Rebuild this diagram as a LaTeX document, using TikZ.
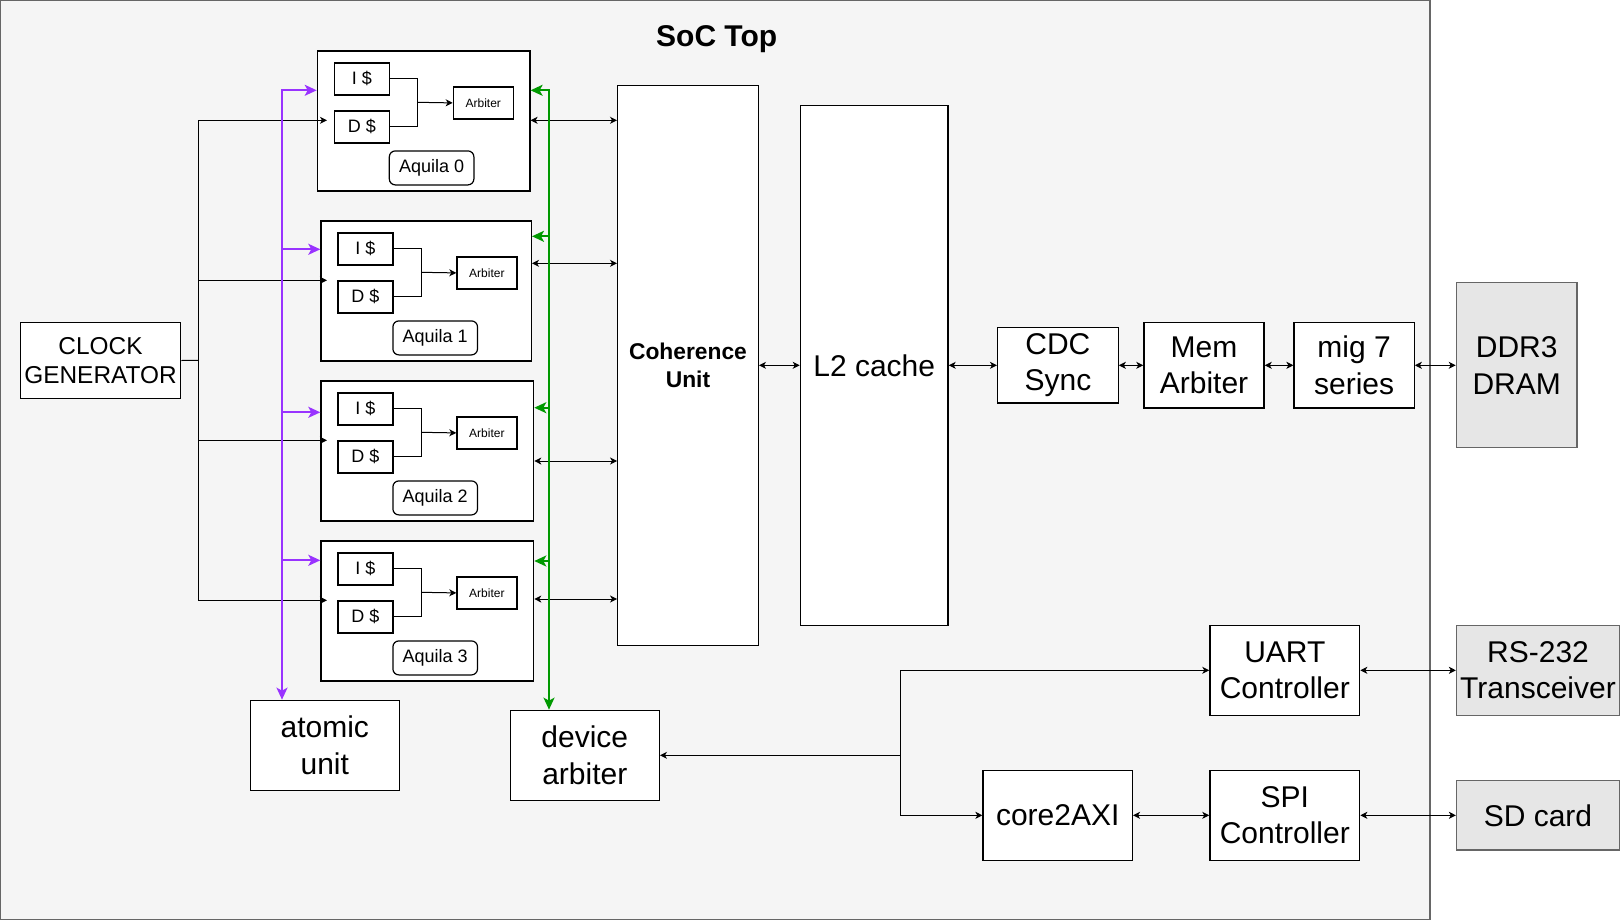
\documentclass[tikz,border=0pt]{standalone}
\usepackage{fontspec}
\setmainfont{Liberation Sans}
\usetikzlibrary{arrows.meta}
\definecolor{couleuratom}{RGB}{153,51,255}
\definecolor{couleurdev}{RGB}{0,153,0}
\definecolor{gris}{RGB}{102,102,102}
\definecolor{grispale}{RGB}{245,245,245}
\definecolor{grisext}{RGB}{230,230,230}
\newcommand{\taille}[2]{\fontsize{#1}{#2}\selectfont}

\begin{document}
\begin{tikzpicture}[x=1pt, y=-1pt]
		% STYLES
		\tikzstyle{bloc} = [draw=black, fill=white, line width=1.3pt, inner sep=0pt, align=center, font=\taille{30}{36.5}]
		\tikzstyle{externe} = [bloc, draw=gris, fill=grisext]
		\tikzstyle{coeur} = [draw=black, fill=white, line width=1.3pt, minimum height=140pt, inner sep=0pt]
		\tikzstyle{cache} = [draw=black, fill=white, line width=1.2pt, minimum width=55pt, minimum height=32pt, inner sep=0pt, font=\taille{18}{21}]
		\tikzstyle{arbitre} = [cache, minimum width=60pt, font=\taille{12}{14}]
		\tikzstyle{etiquette} = [cache, rounded corners=6pt, minimum width=84.6pt, minimum height=34pt]
		\tikzstyle{lien} = [line width=1pt]
		\tikzstyle{fleche} = [line width=1pt, -{Stealth[length=7pt,width=7pt,inset=2pt]}]
		\tikzstyle{bifleche} = [line width=1pt, {Stealth[length=7pt,width=7pt,inset=2pt]}-{Stealth[length=7pt,width=7pt,inset=2pt]}]
		\tikzstyle{lienatom} = [line width=2pt, draw=couleuratom, -{Stealth[length=12pt,width=11pt,inset=3pt]}]
		\tikzstyle{biatom} = [lienatom, {Stealth[length=12pt,width=11pt,inset=3pt]}-{Stealth[length=12pt,width=11pt,inset=3pt]}]
		\tikzstyle{liendev} = [line width=2pt, draw=couleurdev, -{Stealth[length=12pt,width=11pt,inset=3pt]}]
		\tikzstyle{bidev} = [liendev, {Stealth[length=12pt,width=11pt,inset=3pt]}-{Stealth[length=12pt,width=11pt,inset=3pt]}]

		% FOND
		\useasboundingbox (0,0) rectangle (1621,922);
		\fill[white] (0,0) rectangle (1621,922);
		\draw[fill=grispale, draw=gris, line width=1.3pt] (0.65,0.65) rectangle (1430,919.3);
		\node[font=\bfseries\taille{30}{36}, anchor=base] (titre) at (716.7,46.7) {SoC Top};

		% BLOCS
		\node[bloc, minimum width=160.4pt, minimum height=75.6pt, font=\taille{24.4}{29.3}] (clk) at (100.5,360.5) {CLOCK\\GENERATOR};
		\node[bloc, minimum width=140.6pt, minimum height=560pt, font=\bfseries\taille{22.8}{27.4}] (coh) at (688,365.3) {Coherence\\Unit};
		\node[bloc, minimum width=147.7pt, minimum height=520pt] (l2) at (874.2,365.3) {L2 cache};
		\node[bloc, minimum width=120.6pt, minimum height=75.3pt] (cdc) at (1057.9,365.3) {CDC\\Sync};
		\node[bloc, minimum width=120.2pt, minimum height=85.4pt] (mem) at (1204,365.3) {Mem\\Arbiter};
		\node[bloc, minimum width=120.2pt, minimum height=85.4pt] (mig) at (1354.1,365.3) {mig 7\\series};
		\node[externe, minimum width=120.7pt, minimum height=165pt] (ddr) at (1516.7,365.3) {DDR3\\DRAM};
		\node[bloc, minimum width=149pt, minimum height=90pt] (atom) at (324.8,745.3) {atomic\\unit};
		\node[bloc, minimum width=149pt, minimum height=90pt] (dev) at (584.8,755.3) {device\\arbiter};
		\node[bloc, minimum width=149.8pt, minimum height=90pt] (uart) at (1284.8,670.3) {UART\\Controller};
		\node[bloc, minimum width=149.4pt, minimum height=90pt] (core) at (1057.7,815.3) {core2AXI};
		\node[bloc, minimum width=149.8pt, minimum height=90pt] (spi) at (1284.8,815.3) {SPI\\Controller};
		\node[externe, minimum width=163pt, minimum height=90pt] (rs) at (1538,670.3) {RS-232\\Transceiver};
		\node[externe, minimum width=163pt, minimum height=69.3pt] (sd) at (1538,815.3) {SD card};

		% AQUILA
		\coordinate (ckbus) at (198,360.3);
		\draw[lien] (clk.east) -- (ckbus);
		\foreach \i/\x/\y/\w/\ck/\bi in {0/316.7/50.3/212.6/120.3/120.3, 1/320.3/220.3/210.4/280.3/263.3, 2/320.3/380.3/212.7/440.3/461, 3/320.3/540.3/212.7/600.3/599}
		{
			\node[coeur, minimum width=\w pt, anchor=north west] (aq\i) at (\x,\y) {};
			\node[cache, anchor=north west] (is\i) at ([shift={(17,12)}]aq\i.north west) {I \$};
			\node[cache, anchor=north west] (ds\i) at ([shift={(17,60)}]aq\i.north west) {D \$};
			\node[arbitre, anchor=north west] (arb\i) at ([shift={(136,36)}]aq\i.north west) {Arbiter};
			\node[etiquette, anchor=north west] (lab\i) at ([shift={(72,100)}]aq\i.north west) {Aquila \i};
			\coordinate (jn\i) at (\x+101,\y+52);
			\draw[lien] (is\i.east) -| (jn\i) |- (ds\i.east);
			\draw[fleche] (jn\i) -- (arb\i.west);
			\coordinate (ck\i) at (327,\ck);
			\draw[fleche] (ckbus) |- (ck\i);
			\draw[bifleche] (aq\i.east |- 0,\bi) -- (coh.west |- 0,\bi);
		}

		% MEMOIRE
		\draw[bifleche] (coh.east) -- (l2.west);
		\draw[bifleche] (l2.east) -- (cdc.west);
		\draw[bifleche] (cdc.east) -- (mem.west);
		\draw[bifleche] (mem.east) -- (mig.west);
		\draw[bifleche] (mig.east) -- (ddr.west);

		% PERIPHERIQUES
		\coordinate (iobus) at (900,755.3);
		\draw[fleche] (iobus) -- (dev.east);
		\draw[fleche] (iobus) |- (uart.west);
		\draw[fleche] (iobus) |- (core.west);
		\draw[bifleche] (core.east) -- (spi.west);
		\draw[bifleche] (uart.east) -- (rs.west);
		\draw[bifleche] (spi.east) -- (sd.west);

		% ATOMIC / DEVICE
		\coordinate (atbus) at (282,90.3);
		\draw[biatom] (aq0.west |- atbus) -- (atbus) -- (atbus |- atom.north);
		\foreach \i/\pu in {1/249.3, 2/412.3, 3/560.3}
			\draw[lienatom] (atbus |- 0,\pu) -- (aq\i.west |- 0,\pu);
		\coordinate (devbus) at (549,90.3);
		\draw[bidev] (aq0.east |- devbus) -- (devbus) -- (devbus |- dev.north);
		\foreach \i/\gr in {1/236.3, 2/407.7, 3/561}
			\draw[liendev] (devbus |- 0,\gr) -- (aq\i.east |- 0,\gr);

\end{tikzpicture}
\end{document}
